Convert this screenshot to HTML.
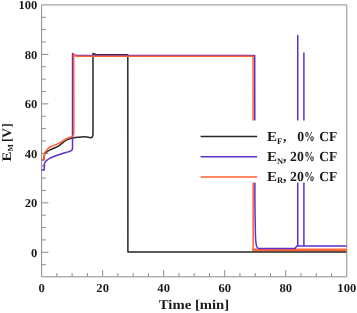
<!DOCTYPE html><html><head><meta charset="utf-8"><style>html,body{margin:0;padding:0;background:#fff}svg{display:block}</style></head><body><svg width="357" height="313" viewBox="0 0 357 313">
<rect width="357" height="313" fill="#fff"/>
<path d="M41.6,4.9 L346.8,4.9 L346.8,276.8 L41.6,276.8 Z" fill="none" stroke="#8c8c8c" stroke-width="1"/>
<line x1="41.6" x2="45.800000000000004" y1="264.67" y2="264.67" stroke="#8c8c8c" stroke-width="1"/>
<line x1="41.6" x2="48.4" y1="252.30" y2="252.30" stroke="#8c8c8c" stroke-width="1"/>
<line x1="41.6" x2="45.800000000000004" y1="239.93" y2="239.93" stroke="#8c8c8c" stroke-width="1"/>
<line x1="41.6" x2="45.800000000000004" y1="227.56" y2="227.56" stroke="#8c8c8c" stroke-width="1"/>
<line x1="41.6" x2="45.800000000000004" y1="215.19" y2="215.19" stroke="#8c8c8c" stroke-width="1"/>
<line x1="41.6" x2="48.4" y1="202.82" y2="202.82" stroke="#8c8c8c" stroke-width="1"/>
<line x1="41.6" x2="45.800000000000004" y1="190.45" y2="190.45" stroke="#8c8c8c" stroke-width="1"/>
<line x1="41.6" x2="45.800000000000004" y1="178.08" y2="178.08" stroke="#8c8c8c" stroke-width="1"/>
<line x1="41.6" x2="45.800000000000004" y1="165.71" y2="165.71" stroke="#8c8c8c" stroke-width="1"/>
<line x1="41.6" x2="48.4" y1="153.34" y2="153.34" stroke="#8c8c8c" stroke-width="1"/>
<line x1="41.6" x2="45.800000000000004" y1="140.97" y2="140.97" stroke="#8c8c8c" stroke-width="1"/>
<line x1="41.6" x2="45.800000000000004" y1="128.60" y2="128.60" stroke="#8c8c8c" stroke-width="1"/>
<line x1="41.6" x2="45.800000000000004" y1="116.23" y2="116.23" stroke="#8c8c8c" stroke-width="1"/>
<line x1="41.6" x2="48.4" y1="103.86" y2="103.86" stroke="#8c8c8c" stroke-width="1"/>
<line x1="41.6" x2="45.800000000000004" y1="91.49" y2="91.49" stroke="#8c8c8c" stroke-width="1"/>
<line x1="41.6" x2="45.800000000000004" y1="79.12" y2="79.12" stroke="#8c8c8c" stroke-width="1"/>
<line x1="41.6" x2="45.800000000000004" y1="66.75" y2="66.75" stroke="#8c8c8c" stroke-width="1"/>
<line x1="41.6" x2="48.4" y1="54.38" y2="54.38" stroke="#8c8c8c" stroke-width="1"/>
<line x1="41.6" x2="45.800000000000004" y1="42.01" y2="42.01" stroke="#8c8c8c" stroke-width="1"/>
<line x1="41.6" x2="45.800000000000004" y1="29.64" y2="29.64" stroke="#8c8c8c" stroke-width="1"/>
<line x1="41.6" x2="45.800000000000004" y1="17.27" y2="17.27" stroke="#8c8c8c" stroke-width="1"/>
<line x1="56.86" x2="56.86" y1="276.8" y2="273.0" stroke="#8c8c8c" stroke-width="1"/>
<line x1="72.12" x2="72.12" y1="276.8" y2="273.0" stroke="#8c8c8c" stroke-width="1"/>
<line x1="87.38" x2="87.38" y1="276.8" y2="273.0" stroke="#8c8c8c" stroke-width="1"/>
<line x1="102.64" x2="102.64" y1="276.8" y2="270.0" stroke="#8c8c8c" stroke-width="1"/>
<line x1="117.90" x2="117.90" y1="276.8" y2="273.0" stroke="#8c8c8c" stroke-width="1"/>
<line x1="133.16" x2="133.16" y1="276.8" y2="273.0" stroke="#8c8c8c" stroke-width="1"/>
<line x1="148.42" x2="148.42" y1="276.8" y2="273.0" stroke="#8c8c8c" stroke-width="1"/>
<line x1="163.68" x2="163.68" y1="276.8" y2="270.0" stroke="#8c8c8c" stroke-width="1"/>
<line x1="178.94" x2="178.94" y1="276.8" y2="273.0" stroke="#8c8c8c" stroke-width="1"/>
<line x1="194.20" x2="194.20" y1="276.8" y2="273.0" stroke="#8c8c8c" stroke-width="1"/>
<line x1="209.46" x2="209.46" y1="276.8" y2="273.0" stroke="#8c8c8c" stroke-width="1"/>
<line x1="224.72" x2="224.72" y1="276.8" y2="270.0" stroke="#8c8c8c" stroke-width="1"/>
<line x1="239.98" x2="239.98" y1="276.8" y2="273.0" stroke="#8c8c8c" stroke-width="1"/>
<line x1="255.24" x2="255.24" y1="276.8" y2="273.0" stroke="#8c8c8c" stroke-width="1"/>
<line x1="270.50" x2="270.50" y1="276.8" y2="273.0" stroke="#8c8c8c" stroke-width="1"/>
<line x1="285.76" x2="285.76" y1="276.8" y2="270.0" stroke="#8c8c8c" stroke-width="1"/>
<line x1="301.02" x2="301.02" y1="276.8" y2="273.0" stroke="#8c8c8c" stroke-width="1"/>
<line x1="316.28" x2="316.28" y1="276.8" y2="273.0" stroke="#8c8c8c" stroke-width="1"/>
<line x1="331.54" x2="331.54" y1="276.8" y2="273.0" stroke="#8c8c8c" stroke-width="1"/>
<path d="M252.45,249.95 L346.5,249.95" fill="none" stroke="#ff6834" stroke-width="2.9"/>
<path d="M41.5,159.7 L44,159.7 L44.5,154.2 C44.6,154.0 44.8,153.2 45.3,152.8 C45.8,152.4 46.4,152.1 47.2,151.6 C48.0,151.1 48.9,150.5 50.1,149.9 C51.3,149.3 53.1,148.6 54.4,148.0 C55.7,147.4 56.8,147.0 58.0,146.3 C59.2,145.6 60.4,144.6 61.6,143.7 C62.8,142.8 64.1,141.5 65.2,140.8 C66.3,140.1 66.9,139.9 68.1,139.4 C69.3,138.9 70.8,138.4 72.4,138.1 C74.1,137.8 76.0,137.5 78.0,137.3 C80.0,137.1 82.8,136.8 84.6,136.8 C86.3,136.8 87.5,137.0 88.5,137.2 C89.5,137.4 90.2,137.8 90.8,137.8 C91.4,137.8 91.9,137.6 92.3,137.0 C92.7,136.4 92.9,134.9 93.0,134.5 L93.0,53.4 L96.5,54.8 L127.8,54.8 L127.9,252.05 L346.5,252.05" fill="none" stroke="#262626" stroke-width="1.5" stroke-linejoin="round" stroke-linecap="butt"/>
<path d="M41.5,170 L44.2,170 L44.2,165.0 C44.3,164.6 44.4,163.3 44.8,162.6 C45.2,161.9 45.6,161.3 46.5,160.6 C47.4,159.8 48.8,158.8 50.1,158.1 C51.4,157.4 53.0,156.8 54.4,156.2 C55.8,155.6 57.3,155.2 58.7,154.7 C60.1,154.2 61.4,153.8 63.0,153.3 C64.6,152.8 66.8,152.3 68.1,151.9 C69.4,151.5 70.2,151.3 70.9,150.9 C71.6,150.5 72.0,150.2 72.3,149.4 C72.6,148.6 72.5,146.6 72.5,146.0 L72.55,53.5 L73.5,55.6 L254.7,55.6 L254.9,200.0 C255.0,205.7 255.2,226.8 255.4,234.0 C255.6,241.2 255.8,240.8 256.0,243.0 C256.2,245.2 256.4,246.1 256.9,247.0 C257.4,247.9 258.0,248.2 258.9,248.4 C259.8,248.7 261.5,248.4 262.0,248.4 L295,248.45 L296.9,246.0 L297.75,246.0 L297.75,35.5 L297.75,246.0 L303.9,246.0 L303.9,53.0 L303.9,246.0 L346.5,246.0" fill="none" stroke="#6030cc" stroke-width="1.5" stroke-linejoin="round" stroke-linecap="butt"/>
<path d="M41.5,159.6 L44.2,159.6 L44.3,155.5 C44.4,154.9 44.7,153.2 45.2,152.2 C45.7,151.2 46.4,150.3 47.2,149.4 C48.0,148.5 48.9,147.7 50.1,147.0 C51.3,146.3 53.0,145.7 54.4,145.1 C55.8,144.5 57.3,144.1 58.7,143.4 C60.1,142.7 61.7,141.6 63.0,140.8 C64.3,140.0 65.4,139.2 66.6,138.6 C67.8,138.0 69.2,137.6 70.2,137.2 C71.2,136.8 72.2,136.5 72.8,136.0 C73.4,135.5 73.5,135.0 73.7,134.2 C73.8,133.4 73.7,131.5 73.8,131.0 L73.75,53.8 L76.3,56.3 L253.1,56.3 L253.2,251.2" fill="none" stroke="#ff6030" stroke-width="1.5" stroke-linejoin="round" stroke-linecap="butt"/>
<rect x="196" y="120.5" width="150" height="62.1" fill="#fff"/>
<line x1="200.6" x2="257.1" y1="136.6" y2="136.6" stroke="#262626" stroke-width="1.5"/>
<line x1="200.6" x2="257.1" y1="156.8" y2="156.8" stroke="#6030cc" stroke-width="1.5"/>
<line x1="200.6" x2="257.1" y1="177" y2="177" stroke="#ff6030" stroke-width="1.5"/>
<text x="37.4" y="256.80" text-anchor="end" font-size="12.2" textLength="6.3" lengthAdjust="spacingAndGlyphs" text-rendering="geometricPrecision" font-family="Liberation Serif, DejaVu Serif, serif" font-weight="bold" fill="#1a1a1a">0</text>
<text x="37.4" y="207.32" text-anchor="end" font-size="12.2" textLength="12.6" lengthAdjust="spacingAndGlyphs" text-rendering="geometricPrecision" font-family="Liberation Serif, DejaVu Serif, serif" font-weight="bold" fill="#1a1a1a">20</text>
<text x="37.4" y="157.84" text-anchor="end" font-size="12.2" textLength="12.6" lengthAdjust="spacingAndGlyphs" text-rendering="geometricPrecision" font-family="Liberation Serif, DejaVu Serif, serif" font-weight="bold" fill="#1a1a1a">40</text>
<text x="37.4" y="108.36" text-anchor="end" font-size="12.2" textLength="12.6" lengthAdjust="spacingAndGlyphs" text-rendering="geometricPrecision" font-family="Liberation Serif, DejaVu Serif, serif" font-weight="bold" fill="#1a1a1a">60</text>
<text x="37.4" y="58.88" text-anchor="end" font-size="12.2" textLength="12.6" lengthAdjust="spacingAndGlyphs" text-rendering="geometricPrecision" font-family="Liberation Serif, DejaVu Serif, serif" font-weight="bold" fill="#1a1a1a">80</text>
<text x="37.4" y="9.40" text-anchor="end" font-size="12.2" textLength="18.9" lengthAdjust="spacingAndGlyphs" text-rendering="geometricPrecision" font-family="Liberation Serif, DejaVu Serif, serif" font-weight="bold" fill="#1a1a1a">100</text>
<text x="41.60" y="291.9" text-anchor="middle" font-size="12.2" textLength="6.3" lengthAdjust="spacingAndGlyphs" text-rendering="geometricPrecision" font-family="Liberation Serif, DejaVu Serif, serif" font-weight="bold" fill="#1a1a1a">0</text>
<text x="102.64" y="291.9" text-anchor="middle" font-size="12.2" textLength="12.6" lengthAdjust="spacingAndGlyphs" text-rendering="geometricPrecision" font-family="Liberation Serif, DejaVu Serif, serif" font-weight="bold" fill="#1a1a1a">20</text>
<text x="163.68" y="291.9" text-anchor="middle" font-size="12.2" textLength="12.6" lengthAdjust="spacingAndGlyphs" text-rendering="geometricPrecision" font-family="Liberation Serif, DejaVu Serif, serif" font-weight="bold" fill="#1a1a1a">40</text>
<text x="224.72" y="291.9" text-anchor="middle" font-size="12.2" textLength="12.6" lengthAdjust="spacingAndGlyphs" text-rendering="geometricPrecision" font-family="Liberation Serif, DejaVu Serif, serif" font-weight="bold" fill="#1a1a1a">60</text>
<text x="285.76" y="291.9" text-anchor="middle" font-size="12.2" textLength="12.6" lengthAdjust="spacingAndGlyphs" text-rendering="geometricPrecision" font-family="Liberation Serif, DejaVu Serif, serif" font-weight="bold" fill="#1a1a1a">80</text>
<text x="346.80" y="291.9" text-anchor="middle" font-size="12.2" textLength="18.9" lengthAdjust="spacingAndGlyphs" text-rendering="geometricPrecision" font-family="Liberation Serif, DejaVu Serif, serif" font-weight="bold" fill="#1a1a1a">100</text>
<text x="194" y="308.9" text-anchor="middle" font-size="13.5" textLength="70.3" lengthAdjust="spacingAndGlyphs" text-rendering="geometricPrecision" font-family="Liberation Serif, DejaVu Serif, serif" font-weight="bold" fill="#1a1a1a">Time [min]</text>
<text transform="translate(10.5,161.2) rotate(-90)" font-size="13" text-rendering="geometricPrecision" font-family="Liberation Serif, DejaVu Serif, serif" font-weight="bold" fill="#1a1a1a"><tspan x="-0.2" textLength="9.9" lengthAdjust="spacingAndGlyphs">E</tspan><tspan x="9.8" font-size="7.8" dy="2.2">M</tspan><tspan dy="-2.2" x="16.5"> </tspan><tspan x="19.3">[</tspan><tspan x="23.3" textLength="9.9" lengthAdjust="spacingAndGlyphs">V</tspan><tspan x="33.7">]</tspan></text>
<text y="141.4" font-size="13.8" text-rendering="geometricPrecision" font-family="Liberation Serif, DejaVu Serif, serif" font-weight="bold" fill="#1a1a1a"><tspan x="267.1" textLength="10.0" lengthAdjust="spacingAndGlyphs">E</tspan><tspan x="276.9" font-size="8.5" dy="2.4">F</tspan><tspan x="283" dy="-2.4">,</tspan> <tspan x="297.3">0</tspan><tspan x="304.3" textLength="10.4" lengthAdjust="spacingAndGlyphs">%</tspan> <tspan x="319.2" textLength="18.0" lengthAdjust="spacingAndGlyphs">CF</tspan></text>
<text y="161.1" font-size="13.8" text-rendering="geometricPrecision" font-family="Liberation Serif, DejaVu Serif, serif" font-weight="bold" fill="#1a1a1a"><tspan x="267.1" textLength="10.0" lengthAdjust="spacingAndGlyphs">E</tspan><tspan x="276.9" font-size="8.5" dy="2.4">N</tspan><tspan x="283" dy="-2.4">,</tspan> <tspan x="290.0">20</tspan><tspan x="304.3" textLength="10.4" lengthAdjust="spacingAndGlyphs">%</tspan> <tspan x="319.2" textLength="18.0" lengthAdjust="spacingAndGlyphs">CF</tspan></text>
<text y="180.7" font-size="13.8" text-rendering="geometricPrecision" font-family="Liberation Serif, DejaVu Serif, serif" font-weight="bold" fill="#1a1a1a"><tspan x="267.1" textLength="10.0" lengthAdjust="spacingAndGlyphs">E</tspan><tspan x="276.9" font-size="8.5" dy="2.4">R</tspan><tspan x="283" dy="-2.4">,</tspan> <tspan x="290.0">20</tspan><tspan x="304.3" textLength="10.4" lengthAdjust="spacingAndGlyphs">%</tspan> <tspan x="319.2" textLength="18.0" lengthAdjust="spacingAndGlyphs">CF</tspan></text>
</svg></body></html>
